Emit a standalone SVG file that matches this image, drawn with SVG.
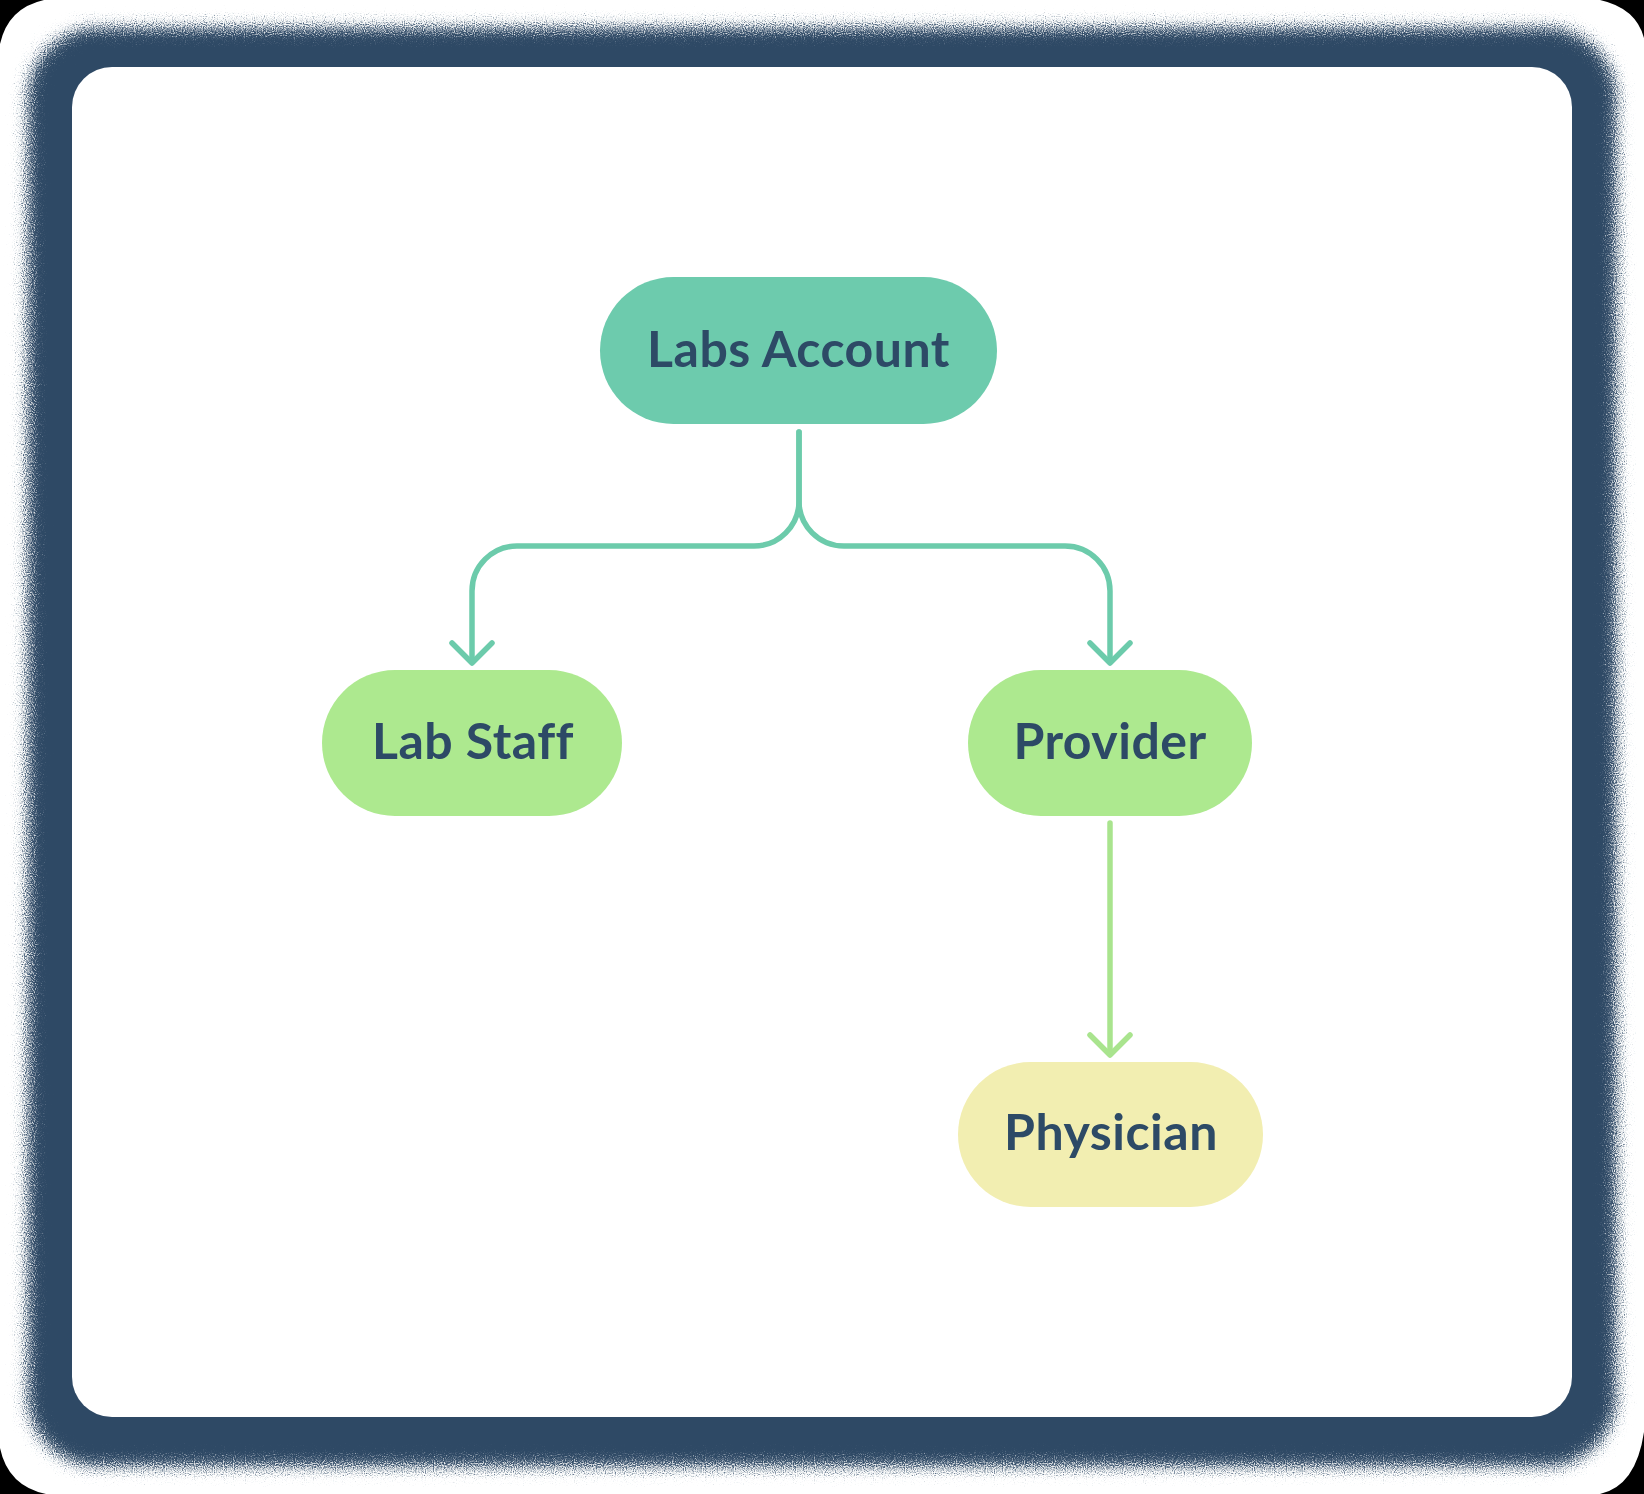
<svg xmlns="http://www.w3.org/2000/svg" width="1644" height="1494" viewBox="0 0 1644 1494">
<style>
.lbl{font-family:Lato,"Open Sans","Liberation Sans",sans-serif;font-weight:700;font-size:50px;fill:#2d4a66;text-anchor:middle;letter-spacing:0.5px}
.teal{fill:none;stroke:#6ccbab;stroke-width:5.5;stroke-linecap:round;stroke-linejoin:round}
.lime{fill:none;stroke:#a9e48e;stroke-width:5.5;stroke-linecap:round;stroke-linejoin:round}
</style>
<defs>
<filter id="grain" x="-5%" y="-5%" width="110%" height="110%">
<feGaussianBlur in="SourceGraphic" stdDeviation="6" result="b"/>
<feTurbulence type="fractalNoise" baseFrequency="0.9" numOctaves="1" seed="3" result="n"/>
<feDisplacementMap in="b" in2="n" scale="38" xChannelSelector="R" yChannelSelector="G"/>
</filter>
</defs>
<rect x="0" y="0" width="1644" height="1494" fill="#ffffff"/>
<g id="corners" fill="#000000">
<path d="M0,0 H44 Q8,8 0,44 Z"/>
<path d="M1644,0 H1600 Q1636,8 1644,38 Z"/>
<path d="M0,1494 H46 Q8,1486 0,1448 Z"/>
<path d="M1644,1494 H1600 Q1636,1486 1644,1432 Z"/>
</g>
<g id="frame">
<rect x="28" y="28" width="1588" height="1438" rx="70" fill="#2d4a65" filter="url(#grain)"/>
<rect x="72" y="67" width="1500" height="1350" rx="40" fill="#ffffff"/>
</g>
<g id="connectors">
<path class="teal" d="M799,432 V501 A45,45 0 0 1 754,546 H517 A45,45 0 0 0 472,591 V661"/>
<path class="teal" d="M799,432 V501 A45,45 0 0 0 844,546 H1065 A45,45 0 0 1 1110,591 V661"/>
<path class="teal" d="M452,643 L472,663 L492,643"/>
<path class="teal" d="M1090,643 L1110,663 L1130,643"/>
<path class="lime" d="M1110,823 V1053"/>
<path class="lime" d="M1090,1035 L1110,1055 L1130,1035"/>
</g>
<g id="node-labs-account">
<rect x="600" y="277" width="397" height="147" rx="73.5" fill="#6dcbad"/>
<text class="lbl" x="798.5" y="367">Labs Account</text>
</g>
<g id="node-lab-staff">
<rect x="322" y="670" width="300" height="146" rx="73" fill="#ade98f"/>
<text class="lbl" x="473" y="759">Lab Staff</text>
</g>
<g id="node-provider">
<rect x="968" y="670" width="284" height="146" rx="73" fill="#ade98f"/>
<text class="lbl" x="1110" y="759">Provider</text>
</g>
<g id="node-physician">
<rect x="958" y="1062" width="305" height="145" rx="72.5" fill="#f2eeb1"/>
<text class="lbl" x="1111" y="1150">Physician</text>
</g>
</svg>
